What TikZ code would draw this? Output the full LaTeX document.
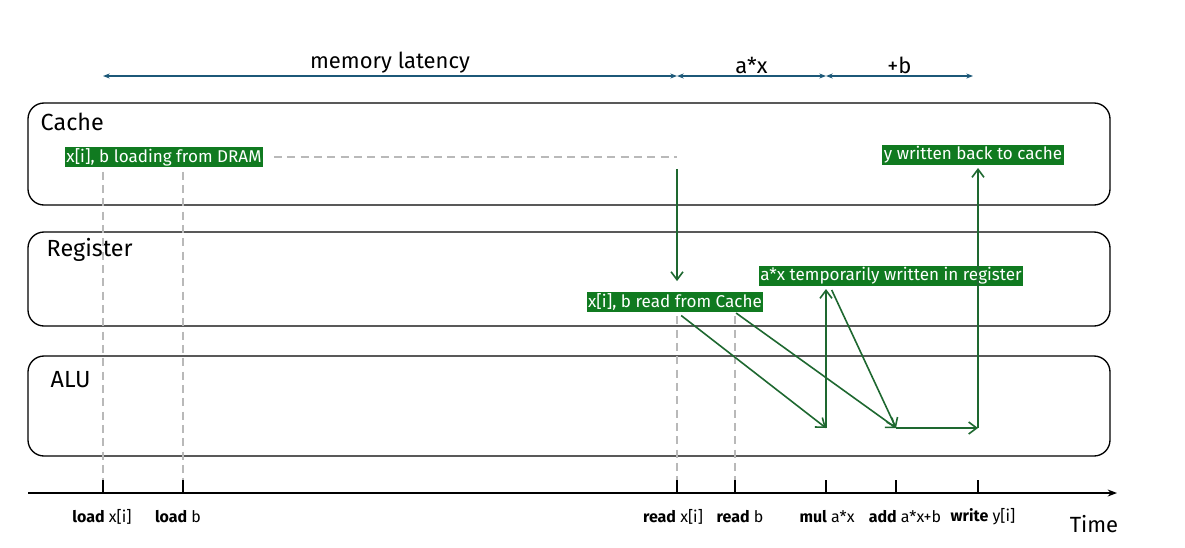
\documentclass[tikz,border=0pt]{standalone}
\usepackage{fontspec}
\setmainfont{Fira Sans}
\usetikzlibrary{arrows.meta}
\definecolor{tagGreen}{RGB}{16,122,32}
\definecolor{flowGreen}{RGB}{30,104,48}
\definecolor{spanBlue}{RGB}{28,88,120}
\newcommand{\bigfont}{\fontsize{16.5}{19}\selectfont}
\newcommand{\lanefont}{\fontsize{17.5}{20}\selectfont}
\newcommand{\tagfont}{\fontsize{12.8}{15}\selectfont}
\newcommand{\smallfont}{\fontsize{12}{14}\selectfont}
\begin{document}
\begin{tikzpicture}[x=0.75pt, y=-0.75pt, >={Straight Barb[length=6pt,width=9pt]},
	lane/.style={draw, line width=1pt, rounded corners=12pt},
	tag/.style={fill=tagGreen, text=white, inner sep=1.2pt, font=\tagfont},
	flow/.style={->, flowGreen, line width=1.2pt},
	guide/.style={gray!55, dash pattern=on 6pt off 4pt, line width=1.1pt},
	span/.style={{Stealth[length=5pt]}-{Stealth[length=5pt]}, spanBlue, line width=1pt}]
	\useasboundingbox (0,0) rectangle (1185,547);
	% lanes
	\draw[lane] (28,103) rectangle (1110,205);
	\draw[lane] (28,232) rectangle (1110,326);
	\draw[lane] (28,356) rectangle (1110,456);
	\node[anchor=west, font=\lanefont] (cachelbl) at (36,122) {Cache};
	\node[anchor=west, font=\lanefont] (reglbl) at (42,250) {Register};
	\node[anchor=west, font=\lanefont] (alulbl) at (46,380) {ALU};
	% time axis
	\path (28,493) coordinate (t0) (1117,493) coordinate (tend);
	\draw[-{Stealth[length=7pt]}, line width=1pt] (t0)--(tend);
	\node[font=\bigfont] (timelbl) at (1094,524) {Time};
	\foreach \n/\x/\lx/\op/\arg in {ldx/103/102/load/x[i], ldb/183/178/load/b, rdx/677/673/read/x[i], rdb/735/740/read/b, mul/826/827/mul/a*x, add/896/905/add/a*x+b, wrt/978/983/write/y[i]}{
		\path (\x,493) coordinate (\n);
		\draw[line width=1.2pt] (\n)--++(0,-13) coordinate (\n top);
		\node[font=\smallfont, inner sep=1pt] (\n lbl) at (\lx,517) {\textbf{\op} \arg};
	}
	% spans
	\path (103,76) coordinate (m0) (677,76) coordinate (m1) (826,76) coordinate (m2) (973,76) coordinate (m3);
	\draw[span] (m0)--node[above=-2pt, font=\bigfont, text=black]{memory latency}(m1);
	\draw[span] (m1)--node[above=-2pt, font=\bigfont, text=black]{a*x}(m2);
	\draw[span] (m2)--node[above=-2pt, font=\bigfont, text=black]{+b}(m3);
	% tags
	\node[tag] (dram) at (164,157) {x[i], b loading from DRAM};
	\node[tag] (rdc) at (675,302) {x[i], b read from Cache};
	\node[tag] (tmp) at (891,276) {a*x temporarily written in register};
	\node[tag] (back) at (973,155) {y written back to cache};
	% guides
	\draw[guide] ([xshift=8pt]dram.east)--(rdx |- dram.east);
	\foreach \n in {ldx, ldb}{
		\draw[guide] ([yshift=-3pt]\n |- dram.south)--(\n top);
	}
	\foreach \n in {rdx, rdb}{
		\draw[guide] ([yshift=-3pt]\n |- rdc.south)--(\n top);
	}
	% data flow
	\path (mul |- 0,428) coordinate (mulp) (add |- 0,428) coordinate (addp) (wrt |- 0,428) coordinate (wrtp);
	\draw[flow, shorten <=1pt, shorten >=8pt] (rdx |- dram.south)--(rdx |- rdc.north);
	\draw[flow, shorten <=4pt] (rdx |- rdc.south)--(mulp);
	\draw[flow, shorten <=1pt] (rdb |- rdc.south)--(addp);
	\draw[flow, shorten >=2pt] (mulp)--(mul |- tmp.south);
	\draw[flow, shorten <=3pt] ([xshift=3pt]mul |- tmp.south)--(addp);
	\draw[flow] (addp)--(wrtp);
	\draw[flow, shorten >=2pt] (wrtp)--(wrt |- back.south);
\end{tikzpicture}
\end{document}
